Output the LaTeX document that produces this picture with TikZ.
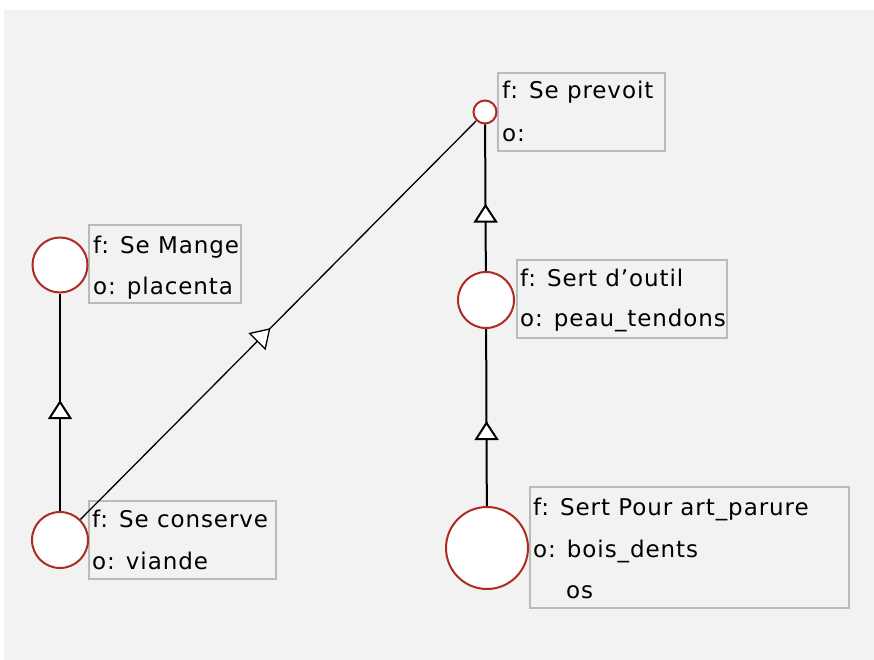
\documentclass[tikz,border=0pt]{standalone}
\usepackage{fontspec}
\newfontfamily\lblfont{DejaVu Sans}[LetterSpace=4]
\usetikzlibrary{arrows.meta,decorations.markings}
\definecolor{bgc}{RGB}{242,242,242}
\definecolor{circred}{RGB}{172,44,34}
\definecolor{boxgray}{RGB}{186,186,186}
\tikzset{
  circ/.style={circle, draw=circred, line width=2pt, fill=white, inner sep=0pt},
  lbox/.style={rectangle, draw=boxgray, line width=2pt, fill=bgc, inner sep=0pt, anchor=north west},
  txt/.style={anchor=base west, inner sep=0pt, font=\lblfont\fontsize{23}{42}\selectfont},
  conn/.style={draw=black, line width=2pt},
  thinconn/.style={draw=black, line width=1.3pt},
  midarrow/.style={postaction={decorate}, decoration={markings,
     mark=at position #1 with {\arrow{Triangle[length=19pt,width=24pt,fill=white]}}}}
}
\begin{document}
\begin{tikzpicture}[x=1pt,y=-1pt]
\useasboundingbox (0,0) rectangle (874,660);
\fill[bgc] (4,10) rectangle (874,660);

% label boxes
\node[lbox, minimum width=152, minimum height=78] (bmange) at (88,224) {};
\node[lbox, minimum width=167, minimum height=78] (bprevoit) at (497,72) {};
\node[lbox, minimum width=210, minimum height=78] (boutil) at (516,259) {};
\node[lbox, minimum width=187, minimum height=78] (bconserve) at (88,500) {};
\node[lbox, minimum width=319, minimum height=121] (bparure) at (529,486) {};

% circles
\node[circ, minimum size=55] (mange) at (60,265) {};
\node[circ, minimum size=56] (conserve) at (60,540) {};
\node[circ, minimum size=23] (prevoit) at (485,112) {};
\node[circ, minimum size=56] (outil) at (486,300) {};
\node[circ, minimum size=82] (parure) at (487,548) {};

% connectors
\draw[conn, midarrow=0.51] (conserve) -- (mange);
\draw[thinconn, midarrow=0.48] (conserve) -- (prevoit);
\draw[conn, midarrow=0.46] (outil) -- (prevoit);
\draw[conn, midarrow=0.48] (parure) -- (outil);

% texts
\node[txt] (tmange1) at (93,253) {f: Se Mange};
\node[txt] (tmange2) at (93,294) {o: placenta};
\node[txt] (tprevoit1) at (502,99) {f: Se prevoit};
\node[txt] (tprevoit2) at (502,142) {o:};
\node[txt] (toutil1) at (520,286) {f: Sert d’outil};
\node[txt] (toutil2) at (520,326) {o: peau\_tendons};
\node[txt] (tconserve1) at (92,527) {f: Se conserve};
\node[txt] (tconserve2) at (92,569) {o: viande};
\node[txt] (tparure1) at (533,515) {f: Sert Pour art\_parure};
\node[txt] (tparure2) at (533,557) {o: bois\_dents};
\node[txt] (tparure3) at (566,598) {os};
\end{tikzpicture}
\end{document}
